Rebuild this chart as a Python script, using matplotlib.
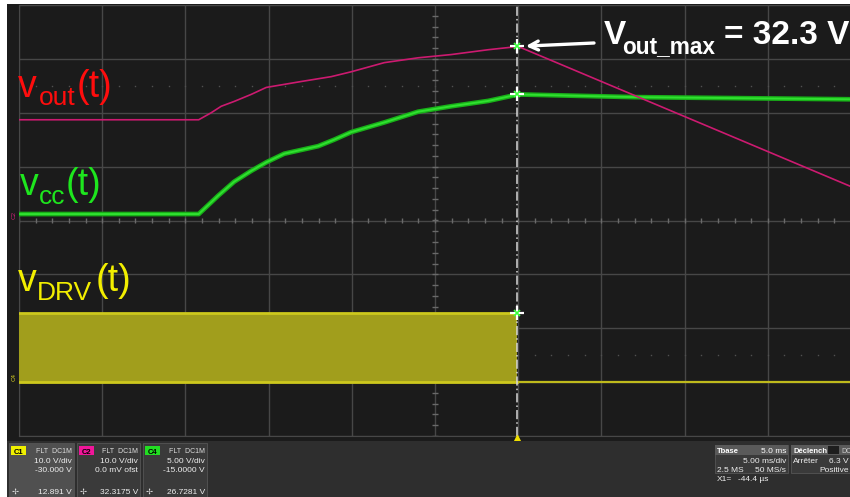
import numpy as np
import matplotlib
matplotlib.use('Agg')
import matplotlib.pyplot as plt
from matplotlib.patches import Rectangle

# time base: 5 ms/div, 10 div, trigger 6 div from the left
t_min, t_max = -30.0, 20.0
t_cursor = -0.0444  # X1 cursor, ms

# channel settings (V/div, offset V)
ch = {'C1': (10.0, -30.0), 'C2': (10.0, 0.0), 'C4': (5.0, -15.0)}

# C2 : vout (ms, V)
t_out = [-30.0, -19.2, -18.45, -17.85, -17.07, -16.05, -15.14, -13.04, -11.24,
         -10.04, -8.05, -6.01, -4.03, -1.8, 0.0, 20.0]
v_out = [18.7, 18.7, 20.0, 21.2, 22.1, 23.4, 24.7, 25.8, 26.7,
         27.6, 29.3, 30.2, 30.8, 31.7, 32.3, 6.3]

# C4 : vcc (ms, V)
t_cc = [-30.0, -19.2, -18.03, -17.07, -16.05, -15.14, -14.06, -12.02, -11.06,
        -10.04, -8.05, -6.01, -4.03, -1.8, 0.0, 7.0, 20.0]
v_cc = [15.6, 15.6, 17.3, 18.6, 19.6, 20.4, 21.2, 21.9, 22.5,
        23.2, 24.1, 25.1, 25.6, 26.1, 26.7, 26.45, 26.25]

# C1 : vDRV switching until the cursor, then off
t_drv_on = [-30.0, t_cursor]
t_drv_off = [t_cursor, 20.0]
v_drv_high = 12.9
v_drv_low = 0.0

vout_max = 32.3
readouts = {'C1': '12.891 V', 'C2': '32.3175 V', 'C4': '26.7281 V'}
vdivs = {'C1': '10.0 V/div', 'C2': '10.0 V/div', 'C4': '5.00 V/div'}
offsets = {'C1': '-30.000 V', 'C2': '0.0 mV ofst', 'C4': '-15.0000 V'}


def div(v, name):
    scale, ofs = ch[name]
    return (np.asarray(v, dtype=float) + ofs) / scale


W, H = 850, 497
fig = plt.figure(figsize=(W / 100, H / 100), dpi=100, facecolor='#1b1b1b')


def fx(x):
    return x / W


def fy(y):
    return 1 - y / H


def put(x, y, s, size, color, weight='normal', ha='left', **kw):
    return fig.text(fx(x), fy(y), s, fontsize=size, color=color, weight=weight,
                    ha=ha, va='baseline', family=['Liberation Sans', 'DejaVu Sans'], **kw)


def box(x0, y0, x1, y1, fc, ec='none', z=1):
    fig.patches.append(Rectangle((fx(x0), fy(y1)), fx(x1) - fx(x0), fy(y0) - fy(y1),
                                 transform=fig.transFigure, fc=fc, ec=ec, lw=0.6,
                                 zorder=z))


# screen frame
box(0, 0, 850, 4, 'white')
box(0, 0, 7, 497, 'white')
box(7, 441, 850, 497, '#2e2e2e')

ax = fig.add_axes([fx(19), fy(436), (851 - 19) / W, (436 - 5) / H])
ax.set_facecolor('#1b1b1b')
ax.set_xlim(t_min, t_max)
ax.set_ylim(-4, 4)
ax.set_xticks(np.arange(t_min, t_max + 1, 5))
ax.set_yticks(np.arange(-4, 5, 1))
ax.grid(True, color='#474747', lw=1.0)
ax.tick_params(length=0, labelbottom=False, labelleft=False)
for s in ax.spines.values():
    s.set_color('#474747')

# centre graticule ticks and +/-2.5 div dotted rows
t_c = -5.0
ax.vlines(np.arange(t_min, t_max, 1.0), -0.05, 0.05, color='#6a6a6a', lw=1.0)
ax.hlines(np.arange(-4, 4, 0.2), t_c - 0.2, t_c + 0.2, color='#6a6a6a', lw=1.0)
for yd in (-2.5, 2.5):
    ax.plot(np.arange(t_min, t_max, 1.0), np.full(50, yd), ls='none', marker='s',
            ms=1.0, color='#505050', mew=0)

# vDRV band
y_hi = div(v_drv_high, 'C1')
y_lo = div(v_drv_low, 'C1')
ax.fill_between(t_drv_on, y_lo, y_hi, color='#a19e1c', lw=0, zorder=3)
ax.plot(t_drv_on, [y_hi, y_hi], color='#cdc81d', lw=2.0, zorder=3)
ax.plot(t_drv_on, [y_lo, y_lo], color='#cdc81d', lw=2.0, zorder=3)
ax.plot(t_drv_off, div([v_drv_low, v_drv_low], 'C1'), color='#bfba1c', lw=1.6, zorder=3)

# vcc and vout traces
ax.plot(t_cc, div(v_cc, 'C4'), color='#18b018', lw=3.4, zorder=4,
        solid_joinstyle='round')
ax.plot(t_cc, div(v_cc, 'C4'), color='#30e030', lw=1.4, zorder=4,
        solid_joinstyle='round')
ax.plot(t_out, div(v_out, 'C2'), color='#cc1a70', lw=1.2, zorder=4)

# cursor
ax.axvline(t_cursor, color='#d8d8d8', lw=1.1, ls=(0, (6, 2, 1, 2)), zorder=5)
cur_y = [div(vout_max, 'C2'), div(26.7281, 'C4'), div(12.891, 'C1')]
ax.plot([t_cursor] * 3, cur_y, ls='none', marker='+', ms=10, mew=1.6,
        color='white', zorder=6)
ax.plot([t_cursor] * 3, cur_y, ls='none', marker='x', ms=5, mew=1.2,
        color='#3cff3c', zorder=7)
ax.plot([t_cursor], [-4.03], ls='none', marker='^', ms=5, color='#f0e000',
        clip_on=False, zorder=7)

# channel ground markers at the left edge
put(14, 218, 'C2', 4.5, '#d0207a', rotation=90, ha='center')
put(14, 380, 'C4', 4.5, '#d8d020', rotation=90, ha='center')

# trace labels
put(18, 97, 'v', 27, '#ff0d0d')
put(39, 105, 'out', 19, '#ff0d0d')
put(77, 97, '(t)', 27, '#ff0d0d')

put(20, 195, 'v', 27, '#1ee61e')
put(39, 204, 'cc', 19, '#1ee61e')
put(66, 195, '(t)', 27, '#1ee61e')

put(18, 291, 'v', 27, '#f2ee00')
put(37, 300, 'DRV', 19, '#f2ee00')
put(96, 291, '(t)', 27, '#f2ee00')

# vout max callout
put(604, 44, 'V', 24, 'white', weight='bold')
put(622, 53, 'out_max', 16.3, 'white', weight='bold')
put(724, 44, '= 32.3 V', 24, 'white', weight='bold')
ax.annotate('', xy=(t_cursor, div(vout_max, 'C2')), xycoords='data',
            xytext=(fx(594), fy(43)), textcoords='figure fraction',
            arrowprops=dict(arrowstyle='->', color='white', lw=2.4,
                            shrinkA=0, shrinkB=6, mutation_scale=16),
            zorder=8)

# channel descriptor boxes
badge = {'C1': '#f0f000', 'C2': '#f0169a', 'C4': '#22dd22'}
for name, x0, x1, fc in [('C1', 9, 74, '#505050'), ('C2', 77, 140, '#3a3a3a'),
                         ('C4', 143, 207, '#3a3a3a')]:
    box(x0, 443, x1, 497, fc, ec='#555555', z=2)
    box(x0 + 2, 446, x0 + 17, 455, badge[name], z=3)
    put(x0 + 9.5, 453.5, name, 5.5, 'black', weight='bold', ha='center')
    put(x1 - 2, 453, 'FLT  DC1M', 5, '#dddddd', ha='right')
    put(x1 - 2, 463, vdivs[name], 6, '#eeeeee', ha='right')
    put(x1 - 2, 472, offsets[name], 6, '#eeeeee', ha='right')
    put(x0 + 3, 494, '\u2722', 6, '#dddddd')
    put(x1 - 2, 494, readouts[name], 6, '#eeeeee', ha='right')

# timebase and trigger boxes
box(715, 445, 788, 473, '#3a3a3a', ec='#555555', z=2)
box(715, 445, 788, 455, '#5a5a5a', z=3)
put(717, 453, 'Tbase', 5.5, 'white', weight='bold')
put(786, 453, '5.0 ms', 6, 'white', ha='right')
put(786, 463, '5.00 ms/div', 6, '#eeeeee', ha='right')
put(717, 472, '2.5 MS', 6, '#eeeeee')
put(786, 472, '50 MS/s', 6, '#eeeeee', ha='right')
put(717, 481, 'X1=', 6, '#eeeeee')
put(738, 481, '-44.4 \u00b5s', 6, '#eeeeee')

box(791, 445, 851, 473, '#3a3a3a', ec='#555555', z=2)
box(791, 445, 851, 455, '#5a5a5a', z=3)
put(793, 453, 'D\u00e9clench', 5.5, 'white', weight='bold')
box(828, 446, 839, 454, '#1e1e1e', z=4)
put(829, 453, 'C1', 5, '#cccccc')
put(841, 453, 'DC', 5, '#cccccc')
put(793, 463, 'Arr\u00eater', 6, '#eeeeee')
put(849, 463, '6.3 V', 6, '#eeeeee', ha='right')
put(849, 472, 'Positive', 6, '#eeeeee', ha='right')

fig.savefig('out.png', dpi=100, facecolor=fig.get_facecolor())
